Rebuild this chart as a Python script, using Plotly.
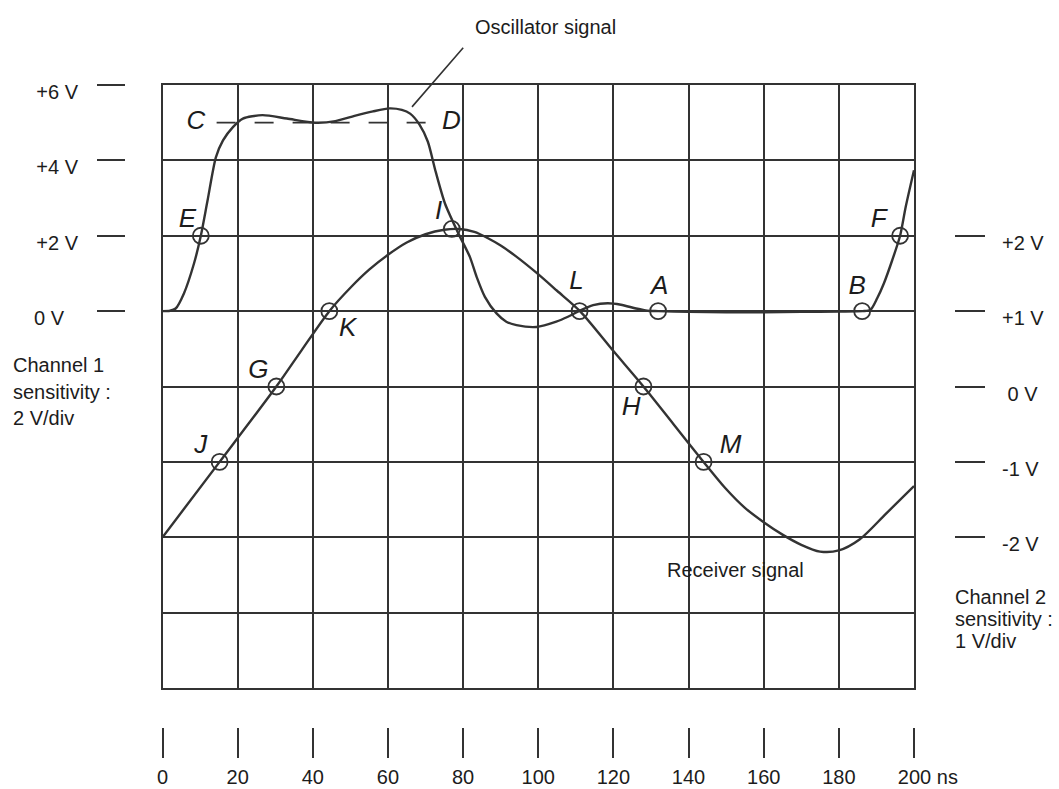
import plotly.graph_objects as go

# ---------------- data (time in ns) ----------------
# Oscillator signal, channel 1 volts
osc_t = [0, 2, 3.5, 5.7, 8.4, 10.2, 12, 14.2, 16.1, 18.8, 21.4, 26.6, 33.1, 40.6, 46, 51.1,
         56, 60.4, 63.7, 65.9, 68.4, 70.6, 72.7, 75.2, 78.8, 81.8, 83.6, 85.8, 88.9, 91.5,
         94.2, 99.5, 104.8, 107.9, 110.8, 114.6, 118.5, 122, 126, 129, 131.9, 140, 150, 160,
         170, 180, 186.3, 188.4, 190.2, 192, 194.2, 196.3, 197.8, 200]
osc_v = [0, 0.01, 0.07, 0.47, 1.27, 2.0, 2.94, 4.08, 4.53, 4.89, 5.11, 5.2, 5.11, 5.0, 5.04, 5.18,
         5.3, 5.38, 5.34, 5.24, 4.95, 4.5, 3.7, 2.85, 2.05, 1.44, 0.91, 0.38, -0.06, -0.28,
         -0.37, -0.42, -0.28, -0.15, 0.0, 0.16, 0.21, 0.17, 0.07, 0.01, 0.0, -0.02, -0.03, -0.03,
         -0.02, -0.01, 0.0, 0.03, 0.34, 0.74, 1.35, 2.0, 2.77, 3.74]

# Receiver signal, channel 2 volts
rec_t = [0, 15.2, 30.3, 37, 44.4, 50.2, 55, 60.1, 65, 70, 75, 79, 83, 86.5, 90, 94, 99.5,
         105, 111.1, 120, 128, 136, 144, 150, 155, 160, 165, 170, 175, 180,
         185.5, 192.5, 200]
rec_v = [-2.0, -1.0, 0.0, 0.48, 1.0, 1.32, 1.55, 1.75, 1.91, 2.02, 2.08, 2.09, 2.05, 1.97,
         1.87, 1.73, 1.51, 1.27, 1.0, 0.47, 0.0, -0.5, -1.0, -1.36, -1.61, -1.80, -1.965,
         -2.10, -2.19, -2.175, -2.03, -1.69, -1.32]

# Marked points on the oscillator signal (channel 1 volts)
osc_pt_names = ["E", "L", "A", "B", "F"]
osc_pt_t = [10.2, 111.0, 131.9, 186.2, 196.3]
osc_pt_v = [2.0, 0.0, 0.0, 0.0, 2.0]

# Marked points on the receiver signal (channel 2 volts)
rec_pt_names = ["J", "G", "K", "I", "H", "M"]
rec_pt_t = [15.2, 30.3, 44.4, 77.0, 128.0, 144.0]
rec_pt_v = [-1.0, 0.0, 1.0, 2.09, 0.0, -1.0]

# Letter labels (channel 1 volt scale)
label_names = ["C", "D", "E", "I", "K", "L", "A", "B", "F", "G", "J", "H", "M"]
label_t = [8.9, 76.9, 6.6, 73.5, 49.3, 110.2, 132.3, 184.9, 190.6, 25.5, 10.2, 124.7, 151.2]
label_v = [5.01, 5.01, 2.41, 2.63, -0.5, 0.77, 0.64, 0.64, 2.41, -1.61, -3.6, -2.58, -3.6]

# Dashed reference line C - D (channel 1 volts)
cd_t = [14.4, 70.3]
cd_v = [5.0, 5.0]

# Tick labels
time_ticks = [0, 20, 40, 60, 80, 100, 120, 140, 160, 180, 200]
time_ticklabels = ["0", "20", "40", "60", "80", "100", "120", "140", "160", "180",
                   "\u00a0" * 5 + "200 ns"]
ch1_ticks = [0, 2, 4, 6]
ch1_ticklabels = ["0 V\u2002\u2009", "+2 V", "+4 V", "+6 V"]
ch2_ticks = [-2, -1, 0, 1, 2]
ch2_ticklabels = ["-2 V", "-1 V", "\u00a00 V", "+1 V", "+2 V"]

# ---------------- figure ----------------
W, H = 1059, 789
INK = "#333333"
TXT = "#1c1c1c"
FONT = "Liberation Sans, Arial, Helvetica, sans-serif"

def px_x(p):
    return p / W

def px_y(p):
    return 1 - p / H

fig = go.Figure()

# oscillator signal on channel-1 axis (x, y3)
fig.add_trace(go.Scatter(x=cd_t, y=cd_v, mode="lines", xaxis="x", yaxis="y3",
                         line=dict(color=INK, width=1.8, dash="19px,19px"),
                         hoverinfo="skip", showlegend=False))
fig.add_trace(go.Scatter(x=osc_t, y=osc_v, mode="lines", xaxis="x", yaxis="y3",
                         line=dict(color=INK, width=2.4, shape="spline", smoothing=0.7),
                         name="Oscillator signal", showlegend=False))
fig.add_trace(go.Scatter(x=osc_pt_t, y=osc_pt_v, mode="markers", xaxis="x", yaxis="y3",
                         marker=dict(symbol="circle-open", size=16, color=INK,
                                     line=dict(width=1.8, color=INK)),
                         text=osc_pt_names, showlegend=False))
# receiver signal on channel-2 axis (x2, y2)
fig.add_trace(go.Scatter(x=rec_t, y=rec_v, mode="lines", xaxis="x2", yaxis="y2",
                         line=dict(color=INK, width=2.4, shape="spline", smoothing=0.8),
                         name="Receiver signal", showlegend=False))
fig.add_trace(go.Scatter(x=rec_pt_t, y=rec_pt_v, mode="markers", xaxis="x2", yaxis="y2",
                         marker=dict(symbol="circle-open", size=16, color=INK,
                                     line=dict(width=1.8, color=INK)),
                         text=rec_pt_names, showlegend=False))
# letter labels on the graticule axes (x, y)
fig.add_trace(go.Scatter(x=label_t, y=label_v, mode="text", xaxis="x", yaxis="y",
                         text=label_names,
                         textfont=dict(family=FONT, size=26, color=TXT, style="italic"),
                         showlegend=False, hoverinfo="skip"))

dom_x = [px_x(162.5), px_x(914)]
dom_y = [px_y(688), px_y(85)]

fig.update_layout(
    width=W, height=H, autosize=False,
    margin=dict(l=0, r=0, t=0, b=0, pad=0, autoexpand=False),
    paper_bgcolor="white", plot_bgcolor="white",
    font=dict(family=FONT, size=20, color=TXT),
    xaxis=dict(domain=dom_x, range=[0, 200], tickmode="linear", tick0=0, dtick=20,
               showgrid=True, gridcolor=INK, gridwidth=2, zeroline=False,
               showline=True, linecolor=INK, linewidth=2, mirror=True,
               showticklabels=False, ticks="", anchor="y", automargin=False),
    yaxis=dict(domain=dom_y, range=[-10, 6], tickmode="linear", tick0=0, dtick=2,
               showgrid=True, gridcolor=INK, gridwidth=2, zeroline=False,
               showline=True, linecolor=INK, linewidth=2, mirror=True,
               showticklabels=False, ticks="", anchor="x", automargin=False),
    yaxis2=dict(overlaying="y", range=[-4, 4], anchor="free", position=px_x(954),
                side="right", tickmode="array", tickvals=ch2_ticks, ticktext=ch2_ticklabels,
                ticks="outside", ticklen=30, tickwidth=2, tickcolor=INK,
                showgrid=False, zeroline=False, showline=False, automargin=False,
                ticklabelstandoff=13, ticklabelshift=7),
    yaxis3=dict(overlaying="y", range=[-10, 6], anchor="free", position=px_x(125),
                side="left", tickmode="array", tickvals=ch1_ticks, ticktext=ch1_ticklabels,
                ticks="outside", ticklen=28, tickwidth=2, tickcolor=INK,
                showgrid=False, zeroline=False, showline=False, automargin=False,
                ticklabelstandoff=15, ticklabelshift=7),
    xaxis2=dict(overlaying="x", range=[0, 200], anchor="free", position=px_y(727),
                side="bottom", tickmode="array", tickvals=time_ticks, ticktext=time_ticklabels,
                ticks="outside", ticklen=30, tickwidth=2, tickcolor=INK,
                showgrid=False, zeroline=False, showline=False, automargin=False,
                ticklabelstandoff=2),
)

# Text annotations
fig.add_annotation(x=px_x(545), y=px_y(27), xref="paper", yref="paper",
                   xanchor="center", yanchor="middle",
                   text="Oscillator signal", showarrow=False, font=dict(size=20))
fig.add_annotation(x=66.4, y=5.42, xref="x", yref="y", text="", showarrow=True,
                   ax=52.5, ay=-60.6, arrowhead=0, arrowwidth=1.6, arrowcolor=INK,
                   standoff=0, startstandoff=0)
fig.add_annotation(x=px_x(735.5), y=px_y(570), xref="paper", yref="paper",
                   xanchor="center", yanchor="middle",
                   text="Receiver signal", showarrow=False, font=dict(size=20))

ch1_lines = ["Channel 1", "sensitivity :", "2 V/div"]
ch1_line_y = [365, 392, 418]
for txt, yy in zip(ch1_lines, ch1_line_y):
    fig.add_annotation(x=px_x(11), y=px_y(yy), xref="paper", yref="paper", text=txt,
                       showarrow=False, xanchor="left", yanchor="middle", font=dict(size=20))

ch2_lines = ["Channel 2", "sensitivity :", "1 V/div"]
ch2_line_y = [597, 619, 641]
for txt, yy in zip(ch2_lines, ch2_line_y):
    fig.add_annotation(x=px_x(953), y=px_y(yy), xref="paper", yref="paper", text=txt,
                       showarrow=False, xanchor="left", yanchor="middle", font=dict(size=20))

fig.write_html("out.html")
